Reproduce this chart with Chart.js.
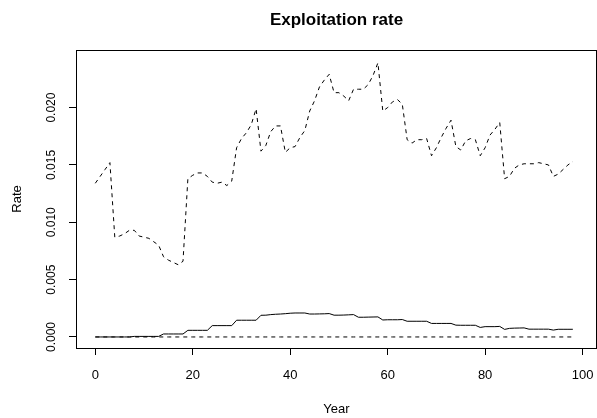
<!DOCTYPE html>
<html>
<head>
<meta charset="utf-8">
<script src="https://cdn.jsdelivr.net/npm/chart.js@4.4.1/dist/chart.umd.min.js"></script>
<style>
  html, body { margin: 0; padding: 0; background: #ffffff; }
  #wrap { width: 597px; height: 418px; }
</style>
</head>
<body>
<div id="wrap"><canvas id="c" width="597" height="418"></canvas></div>
<script>
// Simulation years
const years = [
  0, 1, 2, 3, 4, 5, 6, 7, 8, 9,
  10, 11, 12, 13, 14, 15, 16, 17, 18, 19,
  20, 21, 22, 23, 24, 25, 26, 27, 28, 29,
  30, 31, 32, 33, 34, 35, 36, 37, 38, 39,
  40, 41, 42, 43, 44, 45, 46, 47, 48, 49,
  50, 51, 52, 53, 54, 55, 56, 57, 58, 59,
  60, 61, 62, 63, 64, 65, 66, 67, 68, 69,
  70, 71, 72, 73, 74, 75, 76, 77, 78, 79,
  80, 81, 82, 83, 84, 85, 86, 87, 88, 89,
  90, 91, 92, 93, 94, 95, 96, 97, 98
];

// Realised exploitation rate (dashed, upper)
const rateUpper = [
  0.0134, 0.0140, 0.0146, 0.0152, 0.0087, 0.0088, 0.0090, 0.0093, 0.0093, 0.0088,
  0.0087, 0.0086, 0.0083, 0.0080, 0.0070, 0.0067, 0.0065, 0.0063, 0.0066, 0.0138,
  0.0141, 0.0143, 0.0143, 0.0140, 0.0135, 0.0134, 0.0135, 0.0132, 0.0136, 0.0165,
  0.0173, 0.0178, 0.0185, 0.0199, 0.0162, 0.0167, 0.0179, 0.0184, 0.0184, 0.0161,
  0.0165, 0.0166, 0.0174, 0.0180, 0.0197, 0.0206, 0.0218, 0.0224, 0.0229, 0.0213,
  0.0213, 0.0210, 0.0206, 0.0216, 0.0216, 0.0216, 0.0220, 0.0228, 0.0239, 0.0197,
  0.0200, 0.0205, 0.0207, 0.0203, 0.0172, 0.0169, 0.0172, 0.0172, 0.0173, 0.0158,
  0.0165, 0.0174, 0.0182, 0.0189, 0.0166, 0.0163, 0.0171, 0.0173, 0.0172, 0.0158,
  0.0165, 0.0176, 0.0181, 0.0187, 0.0138, 0.0140, 0.0147, 0.0150, 0.0151, 0.0151,
  0.0151, 0.0152, 0.0151, 0.0150, 0.0140, 0.0142, 0.0146, 0.0150, 0.0153
];

// Target exploitation rate (solid)
const rateTarget = [
  0.00000, 0.00000, 0.00000, 0.00000, 0.00000, 0.00000, 0.00000, 0.00000, 0.00005, 0.00005,
  0.00005, 0.00005, 0.00005, 0.00005, 0.00026, 0.00026, 0.00026, 0.00026, 0.00026, 0.00058,
  0.00058, 0.00058, 0.00058, 0.00058, 0.00099, 0.00099, 0.00099, 0.00099, 0.00099, 0.00146,
  0.00146, 0.00146, 0.00146, 0.00146, 0.00189, 0.00190, 0.00195, 0.00198, 0.00200, 0.00203,
  0.00207, 0.00209, 0.00209, 0.00209, 0.00200, 0.00200, 0.00201, 0.00202, 0.00204, 0.00190,
  0.00190, 0.00191, 0.00193, 0.00195, 0.00172, 0.00172, 0.00173, 0.00174, 0.00175, 0.00148,
  0.00150, 0.00150, 0.00150, 0.00152, 0.00137, 0.00137, 0.00137, 0.00137, 0.00137, 0.00118,
  0.00118, 0.00118, 0.00118, 0.00118, 0.00103, 0.00102, 0.00102, 0.00102, 0.00102, 0.00083,
  0.00090, 0.00090, 0.00090, 0.00092, 0.00066, 0.00075, 0.00077, 0.00078, 0.00079, 0.00068,
  0.00068, 0.00068, 0.00068, 0.00068, 0.00060, 0.00067, 0.00067, 0.00067, 0.00067
];

// Lower reference rate (dashed, zero)
const rateLower = [
  0, 0, 0, 0, 0, 0, 0, 0, 0, 0,
  0, 0, 0, 0, 0, 0, 0, 0, 0, 0,
  0, 0, 0, 0, 0, 0, 0, 0, 0, 0,
  0, 0, 0, 0, 0, 0, 0, 0, 0, 0,
  0, 0, 0, 0, 0, 0, 0, 0, 0, 0,
  0, 0, 0, 0, 0, 0, 0, 0, 0, 0,
  0, 0, 0, 0, 0, 0, 0, 0, 0, 0,
  0, 0, 0, 0, 0, 0, 0, 0, 0, 0,
  0, 0, 0, 0, 0, 0, 0, 0, 0, 0,
  0, 0, 0, 0, 0, 0, 0, 0, 0
];

// Axis ticks
const xTicks = [0, 20, 40, 60, 80, 100];
const yTicks = [0, 0.005, 0.010, 0.015, 0.020];
const yTickLabels = ['0.000', '0.005', '0.010', '0.015', '0.020'];

const chartTitle = 'Exploitation rate';
const FONT = "'Liberation Sans', Arial, Helvetica, sans-serif";

function pts(series) {
  return years.map((yr, i) => ({ x: yr, y: series[i] }));
}

// Frame around the plotting region, and the main title centred over it
const framePlugin = {
  id: 'plotFrame',
  afterDraw(chart) {
    const { ctx, chartArea: a } = chart;
    ctx.save();
    ctx.strokeStyle = '#000000';
    ctx.lineWidth = 1;
    ctx.strokeRect(Math.round(a.left) + 0.5, Math.round(a.top) + 0.5,
                   Math.round(a.right - a.left) - 1, Math.round(a.bottom - a.top));
    ctx.fillStyle = '#000000';
    ctx.font = 'bold 17px ' + FONT;
    ctx.textAlign = 'center';
    ctx.textBaseline = 'middle';
    ctx.fillText(chartTitle, (a.left + a.right) / 2, 20);
    ctx.restore();
  }
};

const lineStyle = { borderColor: '#000000', borderWidth: 1, pointRadius: 0, tension: 0, fill: false };

new Chart(document.getElementById('c'), {
  type: 'line',
  data: {
    datasets: [
      Object.assign({ label: 'Realised', data: pts(rateUpper), borderDash: [4, 4] }, lineStyle),
      Object.assign({ label: 'Target', data: pts(rateTarget) }, lineStyle),
      Object.assign({ label: 'Lower', data: pts(rateLower), borderDash: [4, 4] }, lineStyle)
    ]
  },
  options: {
    responsive: false,
    animation: false,
    devicePixelRatio: 1,
    layout: { padding: { top: 50, left: 0, right: 0, bottom: 0 } },
    plugins: {
      legend: { display: false },
      tooltip: { enabled: false },
      title: { display: false }
    },
    scales: {
      x: {
        type: 'linear',
        min: -3.96,
        max: 102.96,
        afterBuildTicks(scale) { scale.ticks = xTicks.map(v => ({ value: v })); },
        afterFit(scale) { scale.height = 70; scale.paddingLeft = 0; scale.paddingRight = 0; },
        grid: { display: true, drawOnChartArea: false, drawTicks: true, tickLength: 7, color: '#000000', lineWidth: 1 },
        border: { display: false },
        ticks: { color: '#000000', font: { family: FONT, size: 13 }, padding: 13, maxRotation: 0, minRotation: 0,
                 callback: (v) => String(v) },
        title: { display: true, text: 'Year', color: '#000000', font: { family: FONT, size: 13 },
                 padding: { top: 0, bottom: 1 } }
      },
      y: {
        type: 'linear',
        min: -0.000962,
        max: 0.02502,
        afterBuildTicks(scale) { scale.ticks = yTicks.map(v => ({ value: v })); },
        afterFit(scale) { scale.width = 76; },
        grid: { display: true, drawOnChartArea: false, drawTicks: true, tickLength: 7, color: '#000000', lineWidth: 1 },
        border: { display: false },
        ticks: { color: '#000000', font: { family: FONT, size: 12 }, padding: 2, minRotation: 90, maxRotation: 90,
                 crossAlign: 'center',
                 callback: (v) => yTickLabels[yTicks.indexOf(v)] },
        title: { display: true, text: 'Rate', color: '#000000', font: { family: FONT, size: 13 },
                 padding: { top: 10, bottom: 0 } }
      }
    }
  },
  plugins: [framePlugin]
});
</script>
</body>
</html>
